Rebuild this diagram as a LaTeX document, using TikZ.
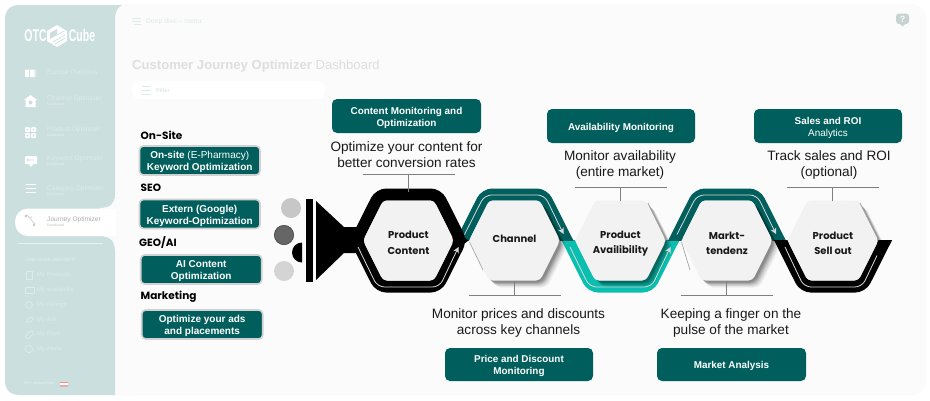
\documentclass[tikz,border=0pt]{standalone}
\usepackage{fontspec}
\setmainfont{Liberation Sans}
\newfontfamily\pop{Poppins}
\newfontfamily\narrowf[FakeStretch=0.62]{Liberation Sans}
\usetikzlibrary{arrows.meta}
\definecolor{tealdk}{HTML}{005F5C}
\definecolor{tealbr}{HTML}{0ABFAF}
\definecolor{side}{HTML}{CBDFDF}
\definecolor{hexf}{HTML}{F2F2F2}
\definecolor{panel}{HTML}{FBFBFB}
\definecolor{faint}{HTML}{DCEAE9}
\definecolor{sidetx}{HTML}{E6F0F0}
\definecolor{sidetxb}{HTML}{DDEBEB}
\def\hexp{(-45.5,0)--(-25.5,-40)--(25.5,-40)--(45.5,0)--(25.5,40)--(-25.5,40)--cycle}
\newcommand\hexshape[1]{\begin{scope}[shift={(#1,240.5)}]\fill[hexf,rounded corners=4] \hexp;\end{scope}}
\newcommand\hexshadow[1]{\begin{scope}[shift={(#1,240.5)}]
  \foreach \d/\o in {7/0.05,6/0.06,5/0.08,4/0.10,3/0.12,2/0.14}{
    \fill[black,opacity=\o,rounded corners=5,shift={(\d,\d)}] \hexp;}
\end{scope}}
\newcommand\topband[2]{\begin{scope}[shift={(#1,240.5)}]
  \clip (-70,-60) rectangle (70,0);
  \draw[#2,line width=12,rounded corners=7] (-57.2,10)--(-29,-46)--(29,-46)--(57.2,10);
\end{scope}}
\newcommand\botband[2]{\begin{scope}[shift={(#1,240.5)}]
  \clip (-70,60) rectangle (70,0);
  \draw[#2,line width=12,rounded corners=7] (-57.2,-10)--(-29,46)--(29,46)--(57.2,-10);
\end{scope}}
\tikzset{
  x=1pt,y=-1pt,
  tealbox/.style={fill=tealdk,rounded corners=5,inner sep=0},
  tealtext/.style={text=white,font=\fontsize{9.9}{12}\selectfont\bfseries,align=center,inner sep=0,yshift=-1.8pt},
  sidebox/.style={fill=tealdk,rounded corners=4,draw=black!18,line width=1.6,inner sep=0},
  sidetext/.style={text=white,font=\fontsize{10}{12}\selectfont\bfseries,align=center,inner sep=0,yshift=-1.6pt},
  caption/.style={font=\fontsize{13.6}{16}\selectfont,align=center,text=black!90,inner sep=0},
  grouplabel/.style={font=\pop\fontsize{10.5}{12}\selectfont\bfseries,anchor=west,inner sep=0},
  hexlabel/.style={font=\pop\fontsize{10}{15.5}\selectfont\bfseries,align=center,minimum width=91pt,minimum height=80pt,inner sep=0,text=black!90},
  tbar/.style={draw=black!50,line width=0.9},
  flowline/.style={draw=white!85!black,line width=0.8,rounded corners=7},
  flowarrow/.style={flowline,-{Stealth[length=6,width=6]}},
  navtext/.style={font=\fontsize{6.6}{8}\selectfont,text=sidetxb,anchor=west,inner sep=0},
  subtext/.style={font=\fontsize{3.4}{4}\selectfont,text=sidetx,anchor=west,inner sep=0},
  reptext/.style={font=\fontsize{5.9}{8}\selectfont,text=sidetxb,anchor=west,inner sep=0},
  icon/.style={fill=white,draw=none},
  repicon/.style={draw=sidetxb,line width=0.7,fill=none},
}
\begin{document}
\begin{tikzpicture}
\useasboundingbox (0,0) rectangle (930,400);
\fill[white] (0,0) rectangle (930,400);
% main panel
\fill[panel,rounded corners=14] (5,4) rectangle (926,395);
% sidebar
\fill[side] (20,5) -- (122,5) .. controls (117,8) and (115,12) .. (115,20) -- (115,195)
   .. controls (115,204) and (110,208) .. (100,208) -- (100,236)
   .. controls (110,236) and (115,241) .. (115,250) -- (115,395) -- (20,395)
   .. controls (10,395) and (5,390) .. (5,380) -- (5,20) .. controls (5,10) and (10,5) .. (20,5) -- cycle;
\fill[side] (22,200) rectangle (100,245);
\fill[white,rounded corners=13] (15,208.5) rectangle (125,236);
\fill[panel] (115,205) rectangle (125,240);
\fill[white] (100,208.5) rectangle (116,236);
\fill[panel] (115,195) .. controls (115,204) and (110,208) .. (100,208) -- (116,208) -- (116,195) -- cycle;
\fill[panel] (115,250) .. controls (115,241) and (110,236) .. (100,236) -- (116,236) -- (116,250) -- cycle;
\draw[sidetx,line width=0.4] (18,243) -- (103,243);
% logo
\node[inner sep=0,text=white,font=\narrowf\fontsize{17}{18}\selectfont\bfseries] (logoa) at (35.5,35.5) {OTC};
\node[inner sep=0,text=white,font=\narrowf\fontsize{17}{18}\selectfont\bfseries] (logob) at (82,35.5) {Cube};
\fill[white] (57,25)--(67,31)--(67,41)--(57,47)--(47,41)--(47,31)--cycle;
\fill[side] (57,29)--(50,33)--(50,39)--(57,35)--cycle;
\draw[side,line width=0.7] (57,35)--(64,31) (55,44)--(65,38) (53,42)--(65,35);
% sidebar nav
\node[navtext] (n1) at (47,73) {Europe Overview};
\node[navtext] (n2) at (47,98.5) {Channel Optimizer};
\node[subtext] (n2s) at (47,104.5) {Dashboard};
\node[navtext] (n3) at (47,129.5) {Product Optimizer};
\node[subtext] (n3s) at (47,135) {Dashboard};
\node[navtext] (n4) at (47,159) {Keyword Optimizer};
\node[subtext] (n4s) at (47,164.5) {Dashboard};
\node[navtext] (n5) at (47,189) {Category Optimizer};
\node[subtext] (n5s) at (47,194.5) {Dashboard};
\node[navtext,text=black!32] (n6) at (47,219.5) {Journey Optimizer};
\node[subtext,text=black!25] (n6s) at (47,225) {Dashboard};
% nav icons
\fill[icon] (25,69.5) rectangle (29,77) (30,69.5) rectangle (34.5,77) (35.5,69.5) rectangle (36,77);
\fill[icon] (30.5,95)--(37,100)--(35.5,100)--(35.5,107)--(25.5,107)--(25.5,100)--(24,100)--cycle;
\fill[side] (30.5,102.5) circle (2);
\fill[icon,rounded corners=1] (25,127) rectangle (30,132) (31,127) rectangle (36,132) (25,133) rectangle (30,138) (31,133) rectangle (36,138);
\fill[side] (27.5,129.5) circle (1) (33.5,129.5) circle (1) (27.5,135.5) circle (1) (33.5,135.5) circle (1);
\fill[icon,rounded corners=1] (25,156) rectangle (37,164);
\fill[icon] (29,164)--(33,164)--(31,167)--cycle;
\draw[side,line width=0.6] (28,160) circle (1.2) (29.5,160)--(34,160);
\draw[white,line width=1] (26,184.5)--(36,184.5) (26,188.5)--(36,188.5) (26,192.5)--(36,192.5);
\draw[black!22,line width=0.6] (27,215)--(35,224);
\fill[black!22] (26,216) circle (1.3) (34,225) circle (1.3);
\fill[black!14] (31,217) circle (1);
% reports
\node[subtext,font=\fontsize{4.6}{6}\selectfont] (r0) at (26,260) {ONE-CLICK-REPORTS};
\node[reptext] (r1) at (37,275) {My Products};
\node[reptext] (r2) at (37,290) {My availability};
\node[reptext] (r3) at (37,305) {My Ratings};
\node[reptext] (r4) at (37,320) {My Ads};
\node[reptext] (r5) at (37,334) {My Price};
\node[reptext] (r6) at (37,349) {My Alerts};
\draw[repicon] (26,271) rectangle (32,279);
\draw[repicon] (25,287) rectangle (34,293);
\draw[repicon] (29,305) circle (3.4);
\draw[repicon] (26,322)--(29,318)--(32,317)--(33,319)--(30,322)--cycle;
\draw[repicon] (25,337)--(30,331)--(33,331)--(33,334)--(28,339)--cycle;
\draw[repicon] (29,349) circle (3.6);
\node[subtext,font=\fontsize{3.8}{5}\selectfont] (pass) at (24,384) {With passion from};
\fill[red!45!white] (60,382) rectangle (68,383.3) (60,385.3) rectangle (68,386.6);
\fill[white] (60,383.3) rectangle (68,385.3);
% header
\draw[faint,line width=0.8] (132,18.5)--(141,18.5) (132,21.5)--(141,21.5) (134,24.5)--(141,24.5);
\node[inner sep=0,anchor=west,text=faint,font=\fontsize{6.8}{8}\selectfont] (deep) at (146,21.5) {Deep dive -- menu:};
\node[inner sep=0,anchor=west,text=black!13,font=\fontsize{13.1}{15}\selectfont] (title) at (132,66) {\textbf{Customer Journey Optimizer} Dashboard};
\fill[white,rounded corners=8] (132,81) rectangle (325,99);
\draw[faint,line width=0.7] (142,86)--(151,86) (142,90)--(151,90) (142,94)--(151,94);
\node[inner sep=0,anchor=west,text=faint,font=\fontsize{5.5}{7}\selectfont\bfseries] (filt) at (156,90.5) {Filter};
\fill[faint!90!black,rounded corners=3] (896,13.5) rectangle (909,24);
\fill[faint!90!black] (900,24)--(905,24)--(902.5,26.5)--cycle;
\node[inner sep=0,text=white,font=\fontsize{9}{10}\selectfont\bfseries] (help) at (902.5,19) {?};
% left group labels and boxes
\node[grouplabel] (lon) at (140.5,135) {On-Site};
\node[sidebox,minimum width=120.5pt,minimum height=29pt] (bon) at (199.7,160.5) {};
\node[sidetext] (bont) at (bon) {On-site {\mdseries (E-Pharmacy)}\\Keyword Optimization};
\node[grouplabel] (lseo) at (140.5,188) {SEO};
\node[sidebox,minimum width=120.5pt,minimum height=29pt] (bseo) at (199.7,214) {};
\node[sidetext] (bseot) at (bseo) {Extern (Google)\\Keyword-Optimization};
\node[grouplabel] (lgeo) at (139,242.5) {GEO/AI};
\node[sidebox,minimum width=121pt,minimum height=29pt] (bgeo) at (201.2,269.5) {};
\node[sidetext] (bgeot) at (bgeo) {AI Content\\Optimization};
\node[grouplabel] (lmkt) at (140.5,297) {Marketing};
\node[sidebox,minimum width=121pt,minimum height=29pt] (bmkt) at (202.2,324.5) {};
\node[sidetext] (bmktt) at (bmkt) {Optimize your ads\\and placements};
% circles and funnel
\fill[black!22] (291,208) circle (10);
\fill[black!60,draw=black!72,line width=0.6] (284,235) circle (9.7);
\fill[black!17] (284,271) circle (10);
\fill[black] (302,242.5) arc[start angle=-90,end angle=-270,radius=10] -- cycle;
\fill[black] (306,199) rectangle (313,282);
\fill[black] (316,201)--(344,227)--(362,227)--(362,253)--(344,253)--(316,280)--cycle;
% bands
\botband{620.5}{tealbr}
\topband{514.5}{tealdk}
\topband{727}{tealdk}
\botband{833}{black}
\begin{scope}[shift={(408.5,240.5)}]
  \draw[black,line width=12,rounded corners=7,line join=miter] (-52.2,0)--(-29,-46)--(29,-46)--(52.2,0)--(29,46)--(-29,46)--cycle;
\end{scope}
\fill[black] (448,225)--(468.5,240.5)--(448,256)--cycle;
% shadows
\hexshadow{514.5}
\hexshadow{620.5}
\hexshadow{727}
\hexshadow{833}
% flow arrows
\begin{scope}[shift={(408.5,240.5)}]
  \draw[flowarrow] (-50.5,6.5)--(-31,46.5)--(31,46.5)--(50,6.5);
\end{scope}
\begin{scope}[shift={(514.5,240.5)}]
  \draw[flowarrow] (-50,-6)--(-30,-45.5)--(30,-45.5)--(49,-6.5);
\end{scope}
\begin{scope}[shift={(620.5,240.5)}]
  \draw[flowarrow] (-50.5,6.5)--(-31,46.5)--(31,46.5)--(50,6.5);
\end{scope}
\begin{scope}[shift={(727,240.5)}]
  \draw[flowarrow] (-50,-6)--(-30,-45.5)--(30,-45.5)--(49,-6.5);
\end{scope}
\begin{scope}[shift={(833,240.5)}]
  \draw[flowline] (-48,6.5)--(-29,46.5)--(29,46.5)--(44,15);
\end{scope}
% hexagons
\hexshape{408.5}
\hexshape{514.5}
\hexshape{620.5}
\hexshape{727}
\hexshape{833}
\draw[black!35,line width=0.7] (483,270)--(469.5,242) (690,270)--(681.5,242);
\draw[black!35,line width=0.7] (648,203)--(666,240) (860,203)--(878.5,240);
\node[hexlabel] (hpc) at (408.5,243) {Product\\Content};
\node[hexlabel] (hch) at (514.5,238.5) {Channel};
\node[hexlabel] (hav) at (620.5,243.5) {Product\\Availibility};
\node[hexlabel] (hmk) at (727,243.5) {Markt-\\tendenz};
\node[hexlabel] (hso) at (833,243.5) {Product\\Sell out};
% T connectors
\coordinate (t1) at (408.5,174);
\coordinate (t2) at (514.5,295);
\coordinate (t3) at (620.5,187);
\coordinate (t4) at (726.5,295);
\coordinate (t5) at (832.5,187);
\coordinate (p1) at (408.5,192);
\coordinate (p2) at (514.5,281);
\coordinate (p3) at (620.5,200.5);
\coordinate (p4) at (726.5,281);
\coordinate (p5) at (832.5,200.5);
\draw[tbar] (362.5,174)--(454.5,174) (468.5,295)--(560.5,295) (574.5,187)--(666.5,187) (680.5,295)--(772.5,295) (786.5,187)--(878.5,187);
\draw[tbar] (t1)--(p1);
\draw[tbar] (t2)--(p2);
\draw[tbar] (t3)--(p3);
\draw[tbar] (t4)--(p4);
\draw[tbar] (t5)--(p5);
% captions
\node[caption] (c1) at (406.5,154.5) {Optimize your content for\\better conversion rates};
\node[caption] (c2) at (518.5,323) {Monitor prices and discounts\\across key channels};
\node[caption] (c3) at (620,164.5) {Monitor availability\\(entire market)};
\node[caption] (c4) at (731,323) {Keeping a finger on the\\pulse of the market};
\node[caption] (c5) at (829,165) {Track sales and ROI\\(optional)};
% teal boxes
\node[tealbox,minimum width=149pt,minimum height=34pt] (b1) at (406.5,116) {};
\node[tealtext] (b1t) at (b1) {Content Monitoring and\\Optimization};
\node[tealbox,minimum width=148pt,minimum height=34pt] (b3) at (621,126) {};
\node[tealtext] (b3t) at (b3) {Availability Monitoring};
\node[tealbox,minimum width=148pt,minimum height=34pt] (b5) at (828,126) {};
\node[tealtext] (b5t) at (b5) {Sales and ROI\\{\mdseries Analytics}};
\node[tealbox,minimum width=148pt,minimum height=33pt] (b2) at (519,364.5) {};
\node[tealtext] (b2t) at (b2) {Price and Discount\\Monitoring};
\node[tealbox,minimum width=149pt,minimum height=33pt] (b4) at (731.5,364.5) {};
\node[tealtext] (b4t) at (b4) {Market Analysis};
\end{tikzpicture}
\end{document}
